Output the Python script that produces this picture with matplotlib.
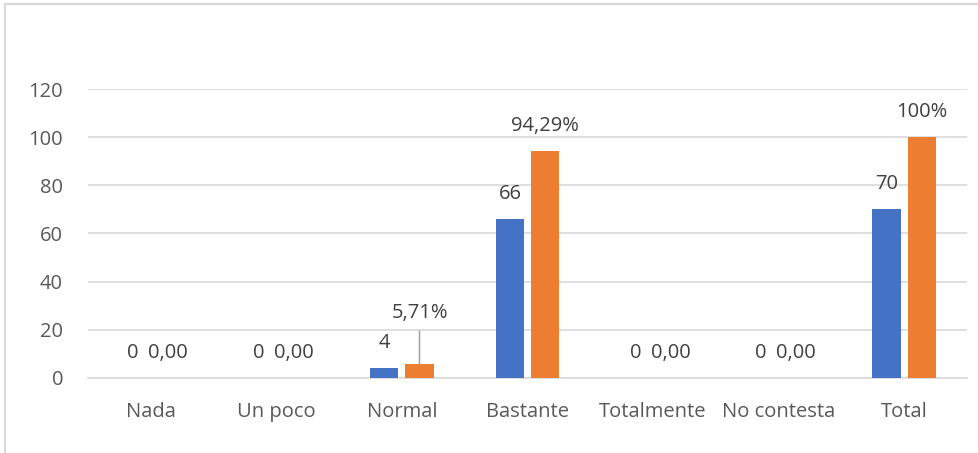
import matplotlib.pyplot as plt
from matplotlib.lines import Line2D
import numpy as np

categorias = ["Nada", "Un poco", "Normal", "Bastante", "Totalmente", "No contesta", "Total"]
frecuencia = [0, 0, 4, 66, 0, 0, 70]
porcentaje = [0, 0, 5.71, 94.29, 0, 0, 100]
etiq_frec = ["0", "0", "4", "66", "0", "0", "70"]
etiq_porc = ["0,00", "0,00", "5,71%", "94,29%", "0,00", "0,00", "100%"]

plt.rcParams['font.family'] = ['Open Sans', 'DejaVu Sans']

fig = plt.figure(figsize=(9.79, 4.53), dpi=100)
ax = fig.add_axes([0.0899, 0.1656, 0.8978, 0.6379])

x = np.arange(len(categorias))
w = 0.225
off = 0.14
b1 = ax.bar(x - off, frecuencia, w, color="#4472C4", zorder=3)
b2 = ax.bar(x + off, porcentaje, w, color="#ED7D31", zorder=3)

fs = 14.5
ax.bar_label(b1, labels=etiq_frec, padding=11, fontsize=fs, color="#404040")
# the 5,71% label sits higher with a leader line
lab2 = [l if l != "5,71%" else "" for l in etiq_porc]
ax.bar_label(b2, labels=lab2, padding=11, fontsize=fs, color="#404040")
i = etiq_porc.index("5,71%")
ax.annotate("5,71%", xy=(x[i] + off, porcentaje[i]), xytext=(x[i] + off, 27),
            ha="center", va="center", fontsize=fs, color="#404040",
            arrowprops=dict(arrowstyle="-", color="#A6A6A6", lw=1.2,
                            shrinkA=4, shrinkB=0))

ax.set_xlim(-0.5, len(categorias) - 0.5)
ax.set_ylim(0, 120)
ax.set_yticks(range(0, 121, 20))
ax.set_xticks(x)
ax.set_xticklabels(categorias)
ax.tick_params(axis="both", length=0, labelsize=fs, labelcolor="#595959")
ax.tick_params(axis="y", pad=18)
ax.tick_params(axis="x", pad=17)
ax.grid(axis="y", color="#D9D9D9", lw=1.2, zorder=0)
for s in ["top", "right", "left"]:
    ax.spines[s].set_visible(False)
ax.spines["bottom"].set_color("#D9D9D9")
ax.spines["bottom"].set_linewidth(1.2)

# chart border (left and top edges visible)
fig.add_artist(Line2D([0.0055, 0.0055], [0, 0.9905], color="#D9D9D9", lw=1.5))
fig.add_artist(Line2D([0.0055, 1], [0.9905, 0.9905], color="#D9D9D9", lw=1.5))

fig.savefig("out.png", dpi=100)
